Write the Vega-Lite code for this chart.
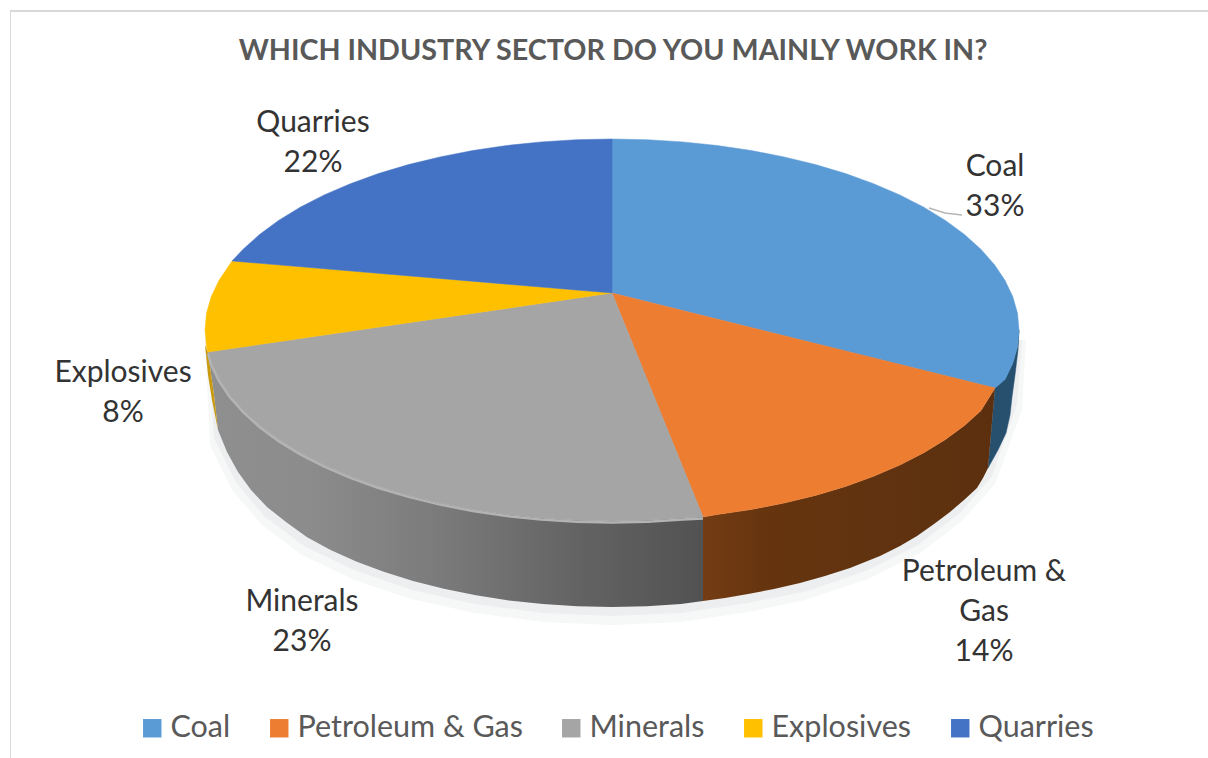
{"$schema":"https://vega.github.io/schema/vega-lite/v6.json","width":1198,"height":748,"autosize":{"type":"none"},"padding":{"left":10,"top":10,"right":0,"bottom":0},"background":"#ffffff","view":{"stroke":null},"title":{"text":"WHICH INDUSTRY SECTOR DO YOU MAINLY WORK IN?","font":"Lato","fontSize":28.7,"fontWeight":"bold","color":"#595959","anchor":"middle","frame":"group","offset":-56,"dx":4},"projection":{"type":"identity","scale":1,"translate":[-10,-10]},"layer":[{"data":{"values":[{"type":"Feature","properties":{"part":"frame"},"geometry":{"type":"LineString","coordinates":[[10,758],[10,11],[1208,11]]}}]},"mark":{"type":"geoshape","filled":false,"stroke":"#d9d9d9","strokeWidth":2}},{"data":{"values":[{"type":"Feature","properties":{"part":"shadow outer"},"geometry":{"type":"Polygon","coordinates":[[[205,340],[210,445],[232,490],[262,525],[302,555],[352,579],[411,599],[475,613],[543,622],[612,625],[681,622],[748,612],[805,600],[868,579],[920,553],[962,521],[995,484],[1022,410],[1026,340],[205,340]]]}}]},"mark":{"type":"geoshape","fill":"#f6f7f7","stroke":null}},{"data":{"values":[{"type":"Feature","properties":{"part":"shadow inner"},"geometry":{"type":"Polygon","coordinates":[[[208,340],[214,438],[235,481],[264,516],[304,546],[354,570],[412,590],[475,604],[543,613],[612,616],[681,613],[748,603],[808,591],[868,570],[918,545],[960,513],[992,476],[1017,404],[1022,340],[208,340]]]}}]},"mark":{"type":"geoshape","fill":"#eceef0","stroke":null}},{"data":{"values":[{"type":"Feature","properties":{"sector":"Coal","part":"side"},"geometry":{"type":"Polygon","coordinates":[[[1019,330],[1017.5,346.7],[1012.8,363.2],[1005,379],[995,388],[988,468],[998,450],[1006,433],[1010,415],[1012,397],[1015,375],[1018,350],[1019,330]]]}}]},"mark":{"type":"geoshape","fill":"#27506f","stroke":"#27506f","strokeWidth":0.5}},{"data":{"values":[{"type":"Feature","properties":{"sector":"Petroleum & Gas","part":"side"},"geometry":{"type":"Polygon","coordinates":[[[995,388],[980.9,410.7],[964.5,425.5],[945.4,439.6],[923.8,452.8],[899.8,465.1],[873.6,476.3],[845.5,486.5],[815.5,495.4],[784,503.1],[751.2,509.5],[717.3,514.5],[703,517],[703,601],[725,598],[748,594],[774,589],[800,583],[825,576],[850,568],[880,556],[900,546],[917,536],[934,524],[950,512],[964,500],[977,488],[983,478],[988,468],[995,388]]]}}]},"mark":{"type":"geoshape","stroke":null,"fill":{"gradient":"linear","x1":0,"x2":1,"y1":0,"y2":0,"stops":[{"offset":0,"color":"#743c14"},{"offset":0.2,"color":"#66350f"},{"offset":1,"color":"#5c300f"}]}}},{"data":{"values":[{"type":"Feature","properties":{"sector":"Minerals","part":"side"},"geometry":{"type":"Polygon","coordinates":[[[703,517],[682.7,518.1],[647.5,520.3],[612,521],[576.5,520.3],[541.3,518.1],[506.7,514.5],[472.8,509.5],[440,503.1],[408.5,495.4],[378.5,486.5],[350.4,476.3],[324.2,465.1],[300.2,452.8],[278.6,439.6],[259.5,425.5],[243.1,410.7],[229.5,395.3],[218.9,379.4],[211.2,363.2],[208,352],[214,395],[218,430],[227,452],[238,472],[251,490],[267,507],[286,522],[307.1,537.3],[330.6,549.9],[356.2,561.4],[383.7,571.7],[413,580.9],[443.8,588.7],[475.9,595.2],[509,600.4],[542.9,604],[577.3,606.3],[612,607],[646.7,606.3],[681,604],[703,601],[703,517]]]}}]},"mark":{"type":"geoshape","stroke":null,"fill":{"gradient":"linear","x1":0,"x2":1,"y1":0,"y2":0,"stops":[{"offset":0,"color":"#8f8f8f"},{"offset":0.2,"color":"#8c8c8c"},{"offset":0.45,"color":"#7c7c7c"},{"offset":0.75,"color":"#636363"},{"offset":1,"color":"#525252"}]}}},{"data":{"values":[{"type":"Feature","properties":{"sector":"Explosives","part":"side"},"geometry":{"type":"Polygon","coordinates":[[[205,345],[208,352],[214,395],[218,430],[212,400],[208,375],[205,345]]]}}]},"mark":{"type":"geoshape","fill":"#c99a10","stroke":null}},{"data":{"values":[{"type":"Feature","properties":{"sector":"Coal","share":33},"geometry":{"type":"Polygon","coordinates":[[[612,293],[612,139],[647.5,139.7],[682.7,141.9],[717.3,145.5],[751.2,150.5],[784,156.9],[815.5,164.6],[845.5,173.5],[873.6,183.7],[899.8,194.9],[923.8,207.2],[945.4,220.4],[964.5,234.5],[980.9,249.3],[994.5,264.7],[1005.1,280.6],[1012.8,296.8],[1017.5,313.3],[1019,330],[1017.5,346.7],[1012.8,363.2],[1005.1,379.4],[995,388],[612,293]]]}},{"type":"Feature","properties":{"sector":"Petroleum & Gas","share":14},"geometry":{"type":"Polygon","coordinates":[[[612,293],[995,388],[980.9,410.7],[964.5,425.5],[945.4,439.6],[923.8,452.8],[899.8,465.1],[873.6,476.3],[845.5,486.5],[815.5,495.4],[784,503.1],[751.2,509.5],[717.3,514.5],[703,517],[612,293]]]}},{"type":"Feature","properties":{"sector":"Minerals","share":23},"geometry":{"type":"Polygon","coordinates":[[[612,293],[703,517],[682.7,518.1],[647.5,520.3],[612,521],[576.5,520.3],[541.3,518.1],[506.7,514.5],[472.8,509.5],[440,503.1],[408.5,495.4],[378.5,486.5],[350.4,476.3],[324.2,465.1],[300.2,452.8],[278.6,439.6],[259.5,425.5],[243.1,410.7],[229.5,395.3],[218.9,379.4],[211.2,363.2],[208,352],[612,293]]]}},{"type":"Feature","properties":{"sector":"Explosives","share":8},"geometry":{"type":"Polygon","coordinates":[[[612,293],[208,352],[206.5,346.7],[205,330],[206.5,313.3],[211.2,296.8],[218.9,280.6],[229.5,264.7],[232,261],[612,293]]]}},{"type":"Feature","properties":{"sector":"Quarries","share":22},"geometry":{"type":"Polygon","coordinates":[[[612,293],[232,261],[243.1,249.3],[259.5,234.5],[278.6,220.4],[300.2,207.2],[324.2,194.9],[350.4,183.7],[378.5,173.5],[408.5,164.6],[440,156.9],[472.8,150.5],[506.7,145.5],[541.3,141.9],[576.5,139.7],[612,139],[612,293]]]}}]},"mark":{"type":"geoshape","strokeWidth":0.5},"encoding":{"color":{"field":"properties.sector","type":"nominal","scale":{"domain":["Coal","Petroleum & Gas","Minerals","Explosives","Quarries"],"range":["#5B9BD5","#ED7D31","#A5A5A5","#FFC000","#4472C4"]},"legend":{"title":null,"orient":"none","direction":"horizontal","columns":5,"gridAlign":"none","legendX":127,"legendY":703,"symbolType":"square","symbolSize":340,"symbolStrokeWidth":0,"labelFont":"Lato","labelFontSize":30.5,"labelColor":"#595959","labelOffset":3,"columnPadding":33,"labelLimit":400,"symbolOpacity":1}},"stroke":{"field":"properties.sector","type":"nominal","legend":null,"scale":{"domain":["Coal","Petroleum & Gas","Minerals","Explosives","Quarries"],"range":["#5B9BD5","#ED7D31","#A5A5A5","#FFC000","#4472C4"]}}}},{"data":{"values":[{"type":"Feature","properties":{"sector":"Minerals","part":"rim"},"geometry":{"type":"LineString","coordinates":[[703,518.5],[682.7,519.6],[647.5,521.8],[612,522.5],[576.5,521.8],[541.3,519.6],[506.7,516],[472.8,511],[440,504.6],[408.5,496.9],[378.5,488],[350.4,477.8],[324.2,466.6],[300.2,454.3],[278.6,441.1],[259.5,427],[243.1,412.2],[229.5,396.8],[218.9,380.9],[211.2,364.7],[208,353.5]]}}]},"mark":{"type":"geoshape","filled":false,"stroke":"#b3b3b3","strokeWidth":2.5}},{"data":{"values":[{"type":"Feature","properties":{"sector":"Coal","part":"leader"},"geometry":{"type":"LineString","coordinates":[[929,208],[945,213],[962,215]]}}]},"mark":{"type":"geoshape","filled":false,"stroke":"#b5b5b5","strokeWidth":1.5}},{"data":{"values":[{"sector":"Coal","share":33,"label":"Coal\n33%","lon":995,"lat":167},{"sector":"Petroleum & Gas","share":14,"label":"Petroleum &\nGas\n14%","lon":984,"lat":572},{"sector":"Minerals","share":23,"label":"Minerals\n23%","lon":302,"lat":602},{"sector":"Explosives","share":8,"label":"Explosives\n8%","lon":123,"lat":373},{"sector":"Quarries","share":22,"label":"Quarries\n22%","lon":313,"lat":123}]},"mark":{"type":"text","font":"Lato","fontSize":30,"color":"#333333","lineBreak":"\n","lineHeight":40,"align":"center","baseline":"middle"},"encoding":{"longitude":{"field":"lon","type":"quantitative"},"latitude":{"field":"lat","type":"quantitative"},"text":{"field":"label","type":"nominal"}}}]}
